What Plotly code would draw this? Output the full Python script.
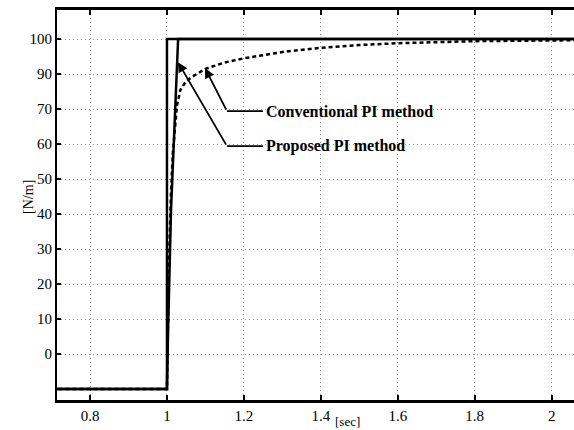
import plotly.graph_objects as go

# ---- data (y in internal units: low level 0, step level 100) ----
ref_x = [0.70, 1.0, 1.0, 2.10]
ref_y = [0, 0, 100, 100]

prop_x = [0.70, 1.0, 1.003, 1.008, 1.0105, 1.029, 2.10]
prop_y = [0, 0, 17, 40, 51, 100, 100]

conv_x = [0.70, 1.0, 1.005, 1.010, 1.015, 1.021, 1.026, 1.035, 1.05, 1.07,
          1.10, 1.15, 1.20, 1.30, 1.40, 1.50, 1.60, 1.80, 2.10]
conv_y = [0, 0, 35, 55, 67, 76, 81, 85.5, 88, 89.5,
          91.5, 93.3, 94.5, 96.3, 97.5, 98.3, 98.8, 99.4, 99.7]

x_tickvals = [0.8, 1.0, 1.2, 1.4, 1.6, 1.8, 2.0]
x_ticktext = ["0.8", "1", "1.2", "1.4", "1.6", "1.8", "2"]
y_tickvals = [10, 20, 30, 40, 50, 60, 70, 80, 90, 100]
y_ticktext = ["0", "10", "20", "30", "40", "50", "60", "70", "90", "100"]

# annotation geometry: (text x, text/bend y, bend x, tip x, tip y)
labels = ["Conventional PI method", "Proposed PI method"]
label_x = [1.2495, 1.2495]
label_y = [79.4, 69.4]
bend_x = [1.156, 1.156]
tip_x = [1.0988, 1.0286]
tip_y = [91.7, 93.4]

FONT = "Liberation Serif"

fig = go.Figure()
fig.add_trace(go.Scatter(x=conv_x, y=conv_y, mode="lines",
                         line=dict(color="black", width=2.5, dash="4px,3px")))
fig.add_trace(go.Scatter(x=prop_x, y=prop_y, mode="lines",
                         line=dict(color="black", width=2.5)))
fig.add_trace(go.Scatter(x=ref_x, y=ref_y, mode="lines",
                         line=dict(color="black", width=2.5)))

annotations = []
shapes = []
for t, lx, ly, bx, tx, ty in zip(labels, label_x, label_y, bend_x, tip_x, tip_y):
    shapes.append(dict(type="line", xref="x", yref="y", x0=bx, x1=lx, y0=ly, y1=ly,
                       line=dict(color="black", width=1.8)))
    annotations.append(dict(x=tx, y=ty, xref="x", yref="y", ax=bx, ay=ly,
                            axref="x", ayref="y", text="", showarrow=True,
                            arrowhead=2, arrowsize=1.1, arrowwidth=1.8,
                            arrowcolor="black"))
    annotations.append(dict(x=lx, y=ly, xref="x", yref="y", xanchor="left",
                            yanchor="middle", text="<b>" + t + "</b>",
                            showarrow=False, xshift=1,
                            font=dict(family=FONT, size=16, color="black")))

annotations.append(dict(x=-0.075, y=0.52, xref="paper", yref="paper",
                        text="[N/m]", textangle=-90, showarrow=False,
                        font=dict(family=FONT, size=14, color="black")))
annotations.append(dict(x=1.4, y=0, xref="x", yref="paper",
                        text="[sec]", showarrow=False, yanchor="bottom",
                        xanchor="left", xshift=13,
                        yshift=-30, borderpad=0,
                        font=dict(family=FONT, size=13, color="black")))

fig.update_layout(
    width=574, height=430,
    margin=dict(l=57, r=0, t=10, b=30),
    plot_bgcolor="white", paper_bgcolor="white",
    showlegend=False,
    font=dict(family=FONT, size=15, color="black"),
    annotations=annotations, shapes=shapes,
)
fig.update_xaxes(range=[0.7142, 2.058], tickvals=x_tickvals, ticktext=x_ticktext,
                 ticks="inside", ticklen=5, tickwidth=1.5, tickcolor="black",
                 showline=True, linewidth=2.5, linecolor="black", mirror="ticks",
                 showgrid=True, gridcolor="#999999", griddash="1px,3px", gridwidth=1,
                 zeroline=False, tickfont=dict(family=FONT, size=15))
fig.update_yaxes(range=[-3.13, 108.3], tickvals=y_tickvals, ticktext=y_ticktext,
                 ticks="inside", ticklen=4, tickwidth=1.5, tickcolor="black",
                 showline=True, linewidth=2, linecolor="black",
                 showgrid=True, gridcolor="#999999", griddash="1px,3px", gridwidth=1,
                 zeroline=False, tickfont=dict(family=FONT, size=15))

fig.write_html("out.html")
